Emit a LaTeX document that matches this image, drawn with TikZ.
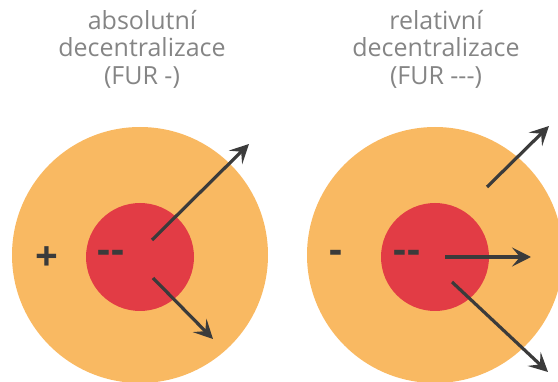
\documentclass[tikz,border=0pt]{standalone}
\usepackage{fontspec}
\setmainfont{Open Sans}
\usepackage{xcolor}
\usetikzlibrary{positioning,calc,arrows.meta}

\definecolor{ringorange}{HTML}{F9B962}
\definecolor{corered}{HTML}{E23C45}
\definecolor{arrowgray}{HTML}{3B3B3B}
\definecolor{titlegray}{HTML}{858585}

\tikzset{
  ring/.style={circle, fill=ringorange, minimum size=256pt, inner sep=0pt},
  core/.style={circle, fill=corered, minimum size=108pt, inner sep=0pt},
  title/.style={text=titlegray, font=\fontsize{25}{27.5}\selectfont, align=center},
  sign/.style={text=arrowgray, font=\fontsize{40}{40}\selectfont\bfseries},
  flow/.style={draw=arrowgray, line width=3.2pt, -{Stealth[length=19pt,width=19pt,inset=8pt]}}
}

\begin{document}
\begin{tikzpicture}[x=1pt,y=-1pt]
        \clip (0,0) rectangle (558,382);

        % Titles
        \node[title] (tabs) at (142,49) {absolutní\\decentralizace\\(FUR -)};
        \node[title] (trel) at (436,49) {relativní\\decentralizace\\(FUR -{}-{}-)};

        % Circles
        \node[ring] (outabs) at (140,255) {};
        \node[core] (inabs) at (140,257) {};
        \node[ring] (outrel) at (435,255) {};
        \node[core] (inrel) at (435,257) {};

        % Signs
        \node[sign] (plus) at (47,259) {+};
        \node[sign] (mabs) at (111,257) {-\kern1pt-};
        \node[sign] (mone) at (336,257) {-};
        \node[sign] (mrel) at (407,257) {-\kern1pt-};

        % Arrow ends
        \coordinate (a1s) at (152,240); \coordinate (a1e) at (249,144);
        \coordinate (a2s) at (153,278); \coordinate (a2e) at (213,339);
        \coordinate (b1s) at (487,187); \coordinate (b1e) at (549,126);
        \coordinate (b2s) at (445,257); \coordinate (b2e) at (531,257);
        \coordinate (b3s) at (452,282); \coordinate (b3e) at (548,372);

        % Arrows
        \draw[flow] (a1s) -- (a1e);
        \draw[flow] (a2s) -- (a2e);
        \draw[flow] (b1s) -- (b1e);
        \draw[flow] (b2s) -- (b2e);
        \draw[flow] (b3s) -- (b3e);
    \end{tikzpicture}
\end{document}
